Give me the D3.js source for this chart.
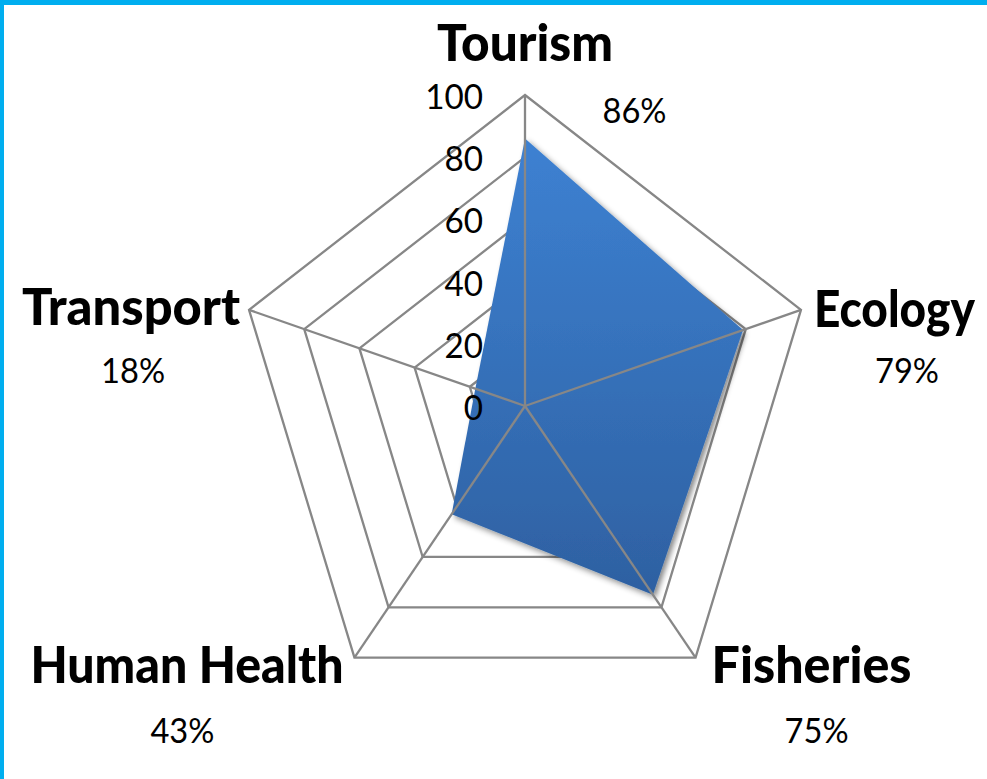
<!DOCTYPE html>
<html><head><meta charset="utf-8">
<script src="https://cdn.jsdelivr.net/npm/d3@7"></script>
<style>body{margin:0;background:#fff;overflow:hidden}</style>
</head><body><div id="chart"></div>
<script>
const categories = ["Tourism", "Ecology", "Fisheries", "Human Health", "Transport"];
const values = [86, 79, 75, 43, 18];
const valueLabels = ["86%", "79%", "75%", "43%", "18%"];
const ticks = [0, 20, 40, 60, 80, 100];

const W = 987, H = 779, cx = 525, cy = 406, R = 311, sx = 0.933;
const FONT = "Lato, 'Open Sans', sans-serif";
const r = d3.scaleLinear().domain([0, 100]).range([0, R]);
const ang = i => i * 2 * Math.PI / categories.length;
const px = (v, i) => cx + sx * r(v) * Math.sin(ang(i));
const py = (v, i) => cy - r(v) * Math.cos(ang(i));

// label layout (offsets from outer vertex, rendered widths)
const catLayout = [
  {anchor: "middle", dx: 0, dy: -34, w: 176},
  {anchor: "start", dx: 13, dy: 17, w: 161},
  {anchor: "start", dx: 16, dy: 25, w: 200},
  {anchor: "end", dx: -11, dy: 25, w: 313},
  {anchor: "end", dx: -9, dy: 15, w: 218}
];
const pctLayout = [
  {dx: 109.5, dy: 28}, {dx: 106, dy: 73}, {dx: 121, dy: 85}, {dx: -172, dy: 85}, {dx: -116, dy: 73}
];

const svg = d3.select("#chart").append("svg").attr("width", W).attr("height", H);
svg.append("rect").attr("width", W).attr("height", H).attr("fill", "#fff");

const defs = svg.append("defs");
const grad = defs.append("linearGradient").attr("id", "fillGrad")
  .attr("gradientUnits", "userSpaceOnUse").attr("x1", 0).attr("x2", 0)
  .attr("y1", -r(86)).attr("y2", r(80));
grad.append("stop").attr("offset", 0).attr("stop-color", "#3d81d2");
grad.append("stop").attr("offset", 1).attr("stop-color", "#2c5c9b");
const f = defs.append("filter").attr("id", "shadow").attr("x", "-20%").attr("y", "-20%").attr("width", "140%").attr("height", "140%");
f.append("feDropShadow").attr("dx", 3).attr("dy", 3).attr("stdDeviation", 3)
  .attr("flood-color", "#000").attr("flood-opacity", 0.45);

const g = svg.append("g").attr("transform", `translate(${cx},${cy}) scale(${sx},1)`);
const radial = d3.lineRadial().angle((d, i) => ang(i)).radius(d => r(d)).curve(d3.curveLinearClosed);

// rings
g.selectAll("path.ring").data(ticks.filter(t => t > 0)).join("path")
  .attr("class", "ring")
  .attr("d", t => radial(categories.map(() => t)))
  .attr("fill", "none").attr("stroke", "#878787").attr("stroke-width", 2.3)
  .attr("stroke-linejoin", "miter")
  .attr("vector-effect", "non-scaling-stroke");

// data area
g.append("path").datum(values)
  .attr("d", radial)
  .attr("fill", "url(#fillGrad)")
  .attr("filter", "url(#shadow)");

// spokes
g.selectAll("line.spoke").data(categories).join("line")
  .attr("class", "spoke")
  .attr("x1", 0).attr("y1", 0)
  .attr("x2", (d, i) => r(100) * Math.sin(ang(i)))
  .attr("y2", (d, i) => -r(100) * Math.cos(ang(i)))
  .attr("stroke", "#878787").attr("stroke-width", 2.3)
  .attr("vector-effect", "non-scaling-stroke");

// tick labels
svg.selectAll("text.tick").data(ticks).join("text")
  .attr("class", "tick")
  .attr("transform", t => `translate(${cx - 42},${cy - r(t) + 14}) scale(0.95,1)`)
  .attr("text-anchor", "end")
  .attr("font-family", FONT).attr("font-size", 35).attr("fill", "#000")
  .text(t => t);

// category labels (scaled horizontally to the reference widths)
svg.selectAll("text.cat").data(categories).join("text")
  .attr("class", "cat")
  .attr("text-anchor", (d, i) => catLayout[i].anchor)
  .attr("font-family", FONT).attr("font-weight", 900).attr("font-size", 51.5).attr("fill", "#000")
  .text(d => d)
  .attr("transform", function(d, i) {
    const nat = this.getComputedTextLength();
    const k = catLayout[i].w / nat;
    return `translate(${px(100, i) + catLayout[i].dx},${py(100, i) + catLayout[i].dy}) scale(${k},1)`;
  });

// percentage labels
svg.selectAll("text.pct").data(valueLabels).join("text")
  .attr("class", "pct")
  .attr("transform", (d, i) => `translate(${px(100, i) + pctLayout[i].dx},${py(100, i) + pctLayout[i].dy}) scale(${sx},1)`)
  .attr("text-anchor", "middle")
  .attr("font-family", FONT).attr("font-size", 35).attr("fill", "#000")
  .text(d => d);

// frame (top & left)
svg.append("rect").attr("x", 0).attr("y", 0).attr("width", W).attr("height", 5).attr("fill", "#00aeef");
svg.append("rect").attr("x", 0).attr("y", 0).attr("width", 4).attr("height", H).attr("fill", "#00aeef");
</script></body></html>
